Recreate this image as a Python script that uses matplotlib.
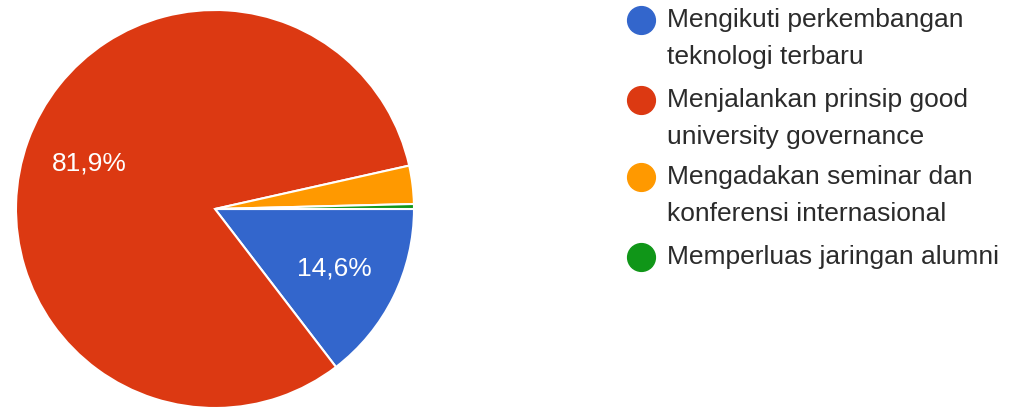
import matplotlib.pyplot as plt
from matplotlib.lines import Line2D

# data
labels = [
    "Mengikuti perkembangan\nteknologi terbaru",
    "Menjalankan prinsip good\nuniversity governance",
    "Mengadakan seminar dan\nkonferensi internasional",
    "Memperluas jaringan alumni",
]
shares = [14.6, 81.9, 3.1, 0.4]
colors = ["#3366cc", "#dc3912", "#ff9900", "#109618"]


def pct_label(p):
    # only the two large slices get a label, comma decimal
    if p < 5:
        return ""
    return f"{p:.1f}%".replace(".", ",")


def main():
    plt.rcParams["font.family"] = ["Liberation Sans", "DejaVu Sans"]

    W, H = 1018, 408
    fig = plt.figure(figsize=(W / 100, H / 100), dpi=100)

    # pie
    ax = fig.add_axes([16 / W, 0, 398 / W, 398 / H])
    wedges, texts, autotexts = ax.pie(
        shares,
        colors=colors,
        startangle=0,
        counterclock=False,
        radius=1,
        autopct=pct_label,
        pctdistance=0.67,
        wedgeprops=dict(edgecolor="white", linewidth=1.5),
        textprops=dict(color="white", fontsize=19),
    )
    ax.set_xlim(-1.0, 1.0)
    ax.set_ylim(-1.0, 1.0)
    ax.set_aspect("equal")

    # legend, drawn by hand to match spacing
    leg_y = [20, 100, 177, 257]
    for lab, col, y in zip(labels, colors, leg_y):
        fy = 1 - y / H
        fig.add_artist(Line2D([641 / W], [fy], marker="o", markersize=20,
                              color=col, transform=fig.transFigure))
        lines = lab.split("\n")
        for i, line in enumerate(lines):
            fig.text(667 / W, 1 - (y + i * 37) / H, line, fontsize=19,
                     color="#2b2b2b", va="center", ha="left")

    fig.savefig("out.png", dpi=100)
    plt.close(fig)


if __name__ == "__main__":
    main()
